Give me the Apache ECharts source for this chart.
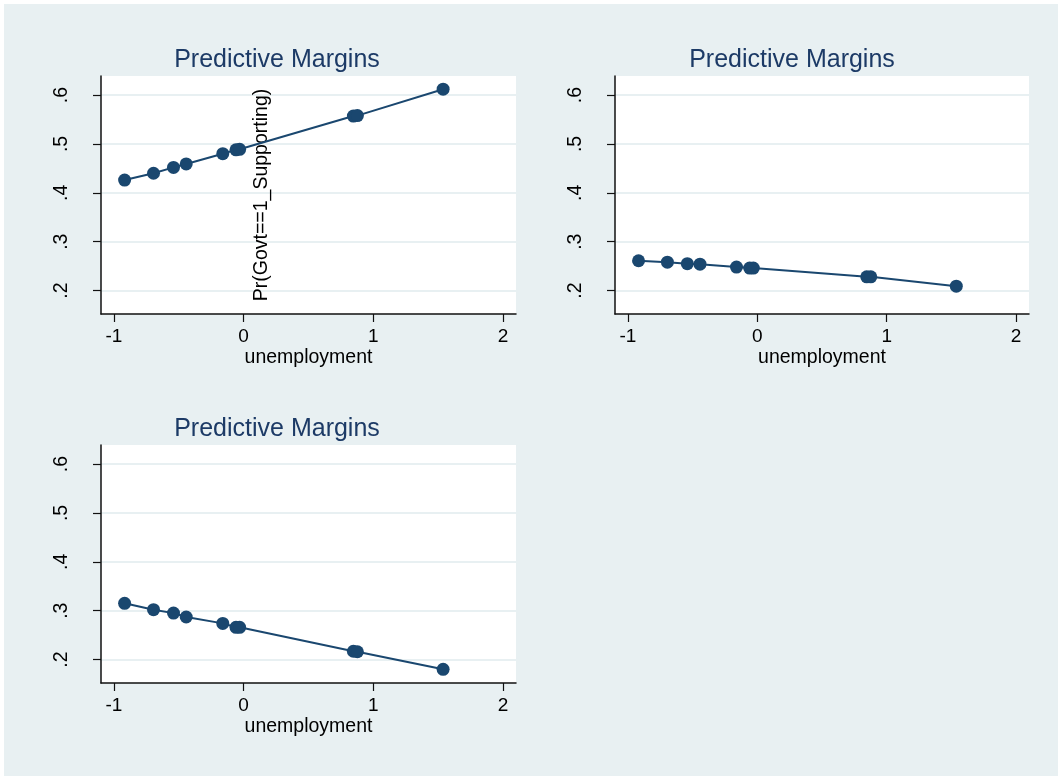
<!DOCTYPE html>
<html>
<head>
<meta charset="utf-8">
<title>Predictive Margins</title>
<script src="https://cdn.jsdelivr.net/npm/echarts@6/dist/echarts.min.js"></script>
<style>
  html, body { margin: 0; padding: 0; background: #ffffff; }
  #chart { position: absolute; left: 4px; top: 4px; width: 1054px; height: 772px; }
</style>
</head>
<body>
<div id="chart"></div>
<script>
// Unemployment values at which the margins were evaluated
const unemployment = [-0.918, -0.695, -0.541, -0.443, -0.161, -0.059, -0.031, 0.846, 0.877, 1.538];

// Predicted probabilities, one array per outcome
const prSupporting = [0.426, 0.440, 0.452, 0.459, 0.480, 0.488, 0.489, 0.557, 0.558, 0.612];
const prOutcome2   = [0.261, 0.258, 0.255, 0.254, 0.248, 0.246, 0.246, 0.228, 0.228, 0.209];
const prOutcome3   = [0.315, 0.302, 0.295, 0.287, 0.274, 0.266, 0.266, 0.217, 0.216, 0.180];

// Axis ticks and labels
const xTicks = [-1, 0, 1, 2];
const yTicks = [0.2, 0.3, 0.4, 0.5, 0.6];
const yTickLabels = ['.2', '.3', '.4', '.5', '.6'];

const panelTitle = 'Predictive Margins';
const xTitle = 'unemployment';
const yTitle = 'Pr(Govt==1_Supporting)';

const NAVY = '#1a476f';
const FONT = '"Liberation Sans", Arial, sans-serif';

const chart = echarts.init(document.getElementById('chart'), null, { renderer: 'canvas' });

// chart div is offset by 4px, so grid positions are relative to it
const grids = [
  { left: 97, top: 72, width: 415, height: 238 },
  { left: 611, top: 72, width: 414, height: 238 },
  { left: 97, top: 441, width: 415, height: 238 }
];

function makeX(i) {
  return {
    gridIndex: i, type: 'value', min: -1.1, max: 2.1,
    axisLine: { show: true, onZero: false, lineStyle: { color: '#111', width: 1.5 } },
    axisTick: { show: true, customValues: xTicks, length: 8, lineStyle: { color: '#111', width: 1.2 } },
    axisLabel: { customValues: xTicks, margin: 13, fontSize: 19, color: '#000', fontFamily: FONT },
    splitLine: { show: false },
    name: xTitle, nameLocation: 'middle', nameGap: 34,
    nameTextStyle: { fontSize: 19.5, color: '#000', fontFamily: FONT }
  };
}

function makeY(i, withTitle) {
  const y = {
    gridIndex: i, type: 'value', min: 0.152, max: 0.639,
    axisLine: { show: true, onZero: false, lineStyle: { color: '#111', width: 1.5 } },
    axisTick: { show: true, customValues: yTicks, length: 8, lineStyle: { color: '#111', width: 1.2 } },
    axisLabel: {
      customValues: yTicks, rotate: 90, margin: 29, fontSize: 19.5, color: '#000', fontFamily: FONT,
      formatter: v => yTickLabels[yTicks.findIndex(t => Math.abs(t - v) < 1e-9)]
    },
    splitLine: { show: true, lineStyle: { color: '#e8f0f2', width: 2 } }
  };
  if (withTitle) {
    y.name = yTitle;
    y.nameLocation = 'middle';
    y.nameRotate = 90;
    y.nameGap = -171;
    y.nameTextStyle = { fontSize: 19.5, color: '#000', fontFamily: FONT };
  }
  return y;
}

function makeSeries(i, values) {
  return {
    type: 'line', xAxisIndex: i, yAxisIndex: i,
    data: unemployment.map((x, k) => [x, values[k]]),
    symbol: 'circle', symbolSize: 13, showAllSymbol: true,
    itemStyle: { color: NAVY },
    lineStyle: { color: NAVY, width: 2 },
    emphasis: { disabled: true },
    animation: false, silent: true
  };
}

const titleStyle = { fontSize: 25, fontWeight: 'normal', color: '#1c3a66', fontFamily: FONT };

chart.setOption({
  backgroundColor: '#e8f0f2',
  animation: false,
  title: [
    { text: panelTitle, left: 273, top: 44, textAlign: 'center', padding: 0, textStyle: titleStyle },
    { text: panelTitle, left: 788, top: 44, textAlign: 'center', padding: 0, textStyle: titleStyle },
    { text: panelTitle, left: 273, top: 413, textAlign: 'center', padding: 0, textStyle: titleStyle }
  ],
  grid: grids.map(g => Object.assign({ show: true, backgroundColor: '#ffffff', borderWidth: 0, containLabel: false }, g)),
  xAxis: [makeX(0), makeX(1), makeX(2)],
  yAxis: [makeY(0, true), makeY(1, false), makeY(2, false)],
  series: [makeSeries(0, prSupporting), makeSeries(1, prOutcome2), makeSeries(2, prOutcome3)]
});
</script>
</body>
</html>
